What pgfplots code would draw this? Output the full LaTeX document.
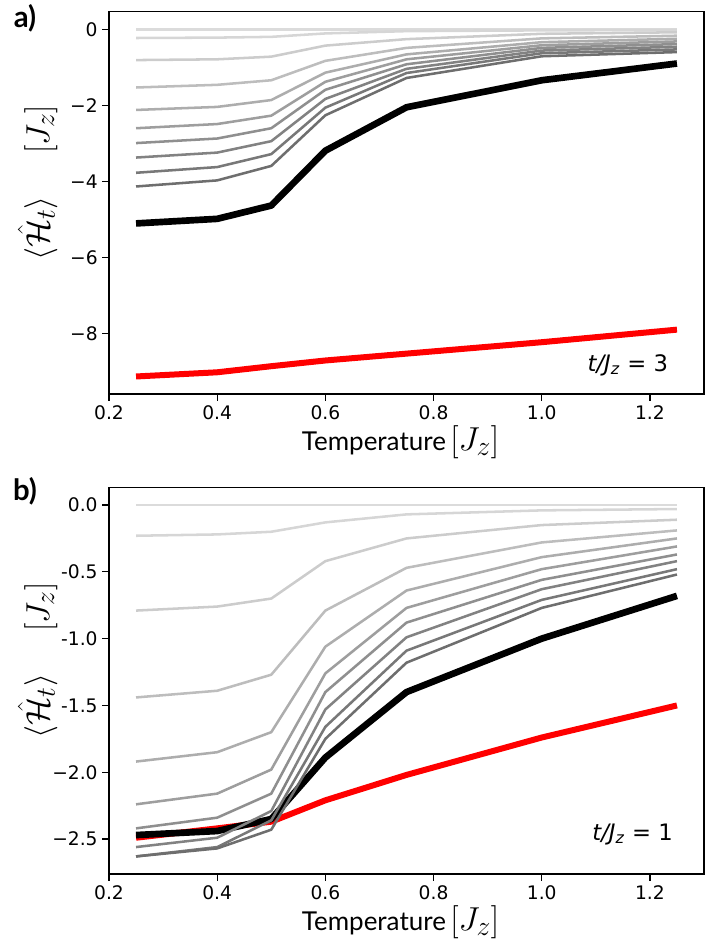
\documentclass[border=0pt]{standalone}
\usepackage{amsmath}
\usepackage{fontspec}
\setmainfont{Lato}
\newfontfamily\dejavu{DejaVu Sans}
\usepackage{pgfplots}
\pgfplotsset{compat=1.18}
\usepackage{pgfplotstable}

\pgfplotstableread{
T g1 g2 g3 g4 g5 g6 g7 g8 g9 g10 blk red
0.25 0 -0.23 -0.81 -1.53 -2.12 -2.60 -2.99 -3.37 -3.77 -4.13 -5.10 -9.12
0.40 0 -0.22 -0.79 -1.46 -2.04 -2.49 -2.87 -3.24 -3.62 -3.97 -4.98 -9.01
0.50 0 -0.20 -0.72 -1.34 -1.86 -2.27 -2.60 -2.94 -3.28 -3.59 -4.63 -8.85
0.60 0 -0.11 -0.43 -0.83 -1.14 -1.38 -1.59 -1.83 -2.06 -2.26 -3.19 -8.70
0.75 0 -0.05 -0.26 -0.49 -0.66 -0.79 -0.92 -1.04 -1.15 -1.28 -2.05 -8.52
1.00 0 -0.03 -0.12 -0.24 -0.34 -0.42 -0.49 -0.56 -0.63 -0.71 -1.34 -8.22
1.25 0 -0.02 -0.08 -0.17 -0.25 -0.32 -0.39 -0.46 -0.53 -0.60 -0.90 -7.89
}\dataA

\pgfplotstableread{
T g1 g2 g3 g4 g5 g6 g7 g8 g9 g10 blk red
0.25 0 -0.23 -0.79 -1.44 -1.92 -2.24 -2.42 -2.56 -2.63 -2.63 -2.47 -2.49
0.40 0 -0.22 -0.76 -1.39 -1.85 -2.16 -2.34 -2.49 -2.56 -2.57 -2.44 -2.42
0.50 0 -0.20 -0.70 -1.27 -1.70 -1.98 -2.16 -2.29 -2.36 -2.43 -2.35 -2.37
0.60 0 -0.13 -0.42 -0.79 -1.06 -1.26 -1.40 -1.53 -1.66 -1.75 -1.89 -2.21
0.75 0 -0.07 -0.25 -0.47 -0.64 -0.77 -0.88 -0.99 -1.09 -1.18 -1.40 -2.02
1.00 0 -0.04 -0.15 -0.28 -0.39 -0.48 -0.56 -0.63 -0.71 -0.77 -1.00 -1.74
1.25 0 -0.03 -0.11 -0.19 -0.25 -0.31 -0.37 -0.42 -0.48 -0.52 -0.68 -1.50
}\dataB

\definecolor{c1}{gray}{0.86}
\definecolor{c2}{gray}{0.84}
\definecolor{c3}{gray}{0.80}
\definecolor{c4}{gray}{0.74}
\definecolor{c5}{gray}{0.68}
\definecolor{c6}{gray}{0.62}
\definecolor{c7}{gray}{0.56}
\definecolor{c8}{gray}{0.51}
\definecolor{c9}{gray}{0.47}
\definecolor{c10}{gray}{0.43}

\newcommand{\mathbig}{\fontsize{24.88}{30}\selectfont}
\pgfplotsset{
  panel/.style={
    scale only axis, width=446.25pt,
    xmin=0.2, xmax=1.3,
    xtick={0.2,0.4,0.6,0.8,1.0,1.2},
    xticklabels={0.2,0.4,0.6,0.8,1.0,1.2},
    tick align=outside, xtick pos=bottom, ytick pos=left,
    major tick length=5pt,
    tick style={line width=0.9pt, black},
    axis line style={line width=0.9pt},
    tick label style={font=\dejavu\fontsize{14}{17}\selectfont},
    label style={font=\fontsize{19.5}{24}\selectfont},
    xlabel={Temperature\,{\mathbig$[J_z]$}},
    ylabel={{\mathbig$\langle \hat{\mathcal{H}}_t \rangle \quad\; [ J_z ]$}},
    xlabel style={at={(axis description cs:0.49,0)}, anchor=center, yshift=-36pt},
    ylabel style={at={(axis description cs:-0.12,0.553)}, anchor=center},
    every axis plot/.append style={line join=round},
  },
  gline/.style={line width=1.9pt, #1},
}

\newcommand{\grays}[1]{%
  \addplot[gline=c1] table[x=T,y=g1]{#1};
  \addplot[gline=c2] table[x=T,y=g2]{#1};
  \addplot[gline=c3] table[x=T,y=g3]{#1};
  \addplot[gline=c4] table[x=T,y=g4]{#1};
  \addplot[gline=c5] table[x=T,y=g5]{#1};
  \addplot[gline=c6] table[x=T,y=g6]{#1};
  \addplot[gline=c7] table[x=T,y=g7]{#1};
  \addplot[gline=c8] table[x=T,y=g8]{#1};
  \addplot[gline=c9] table[x=T,y=g9]{#1};
  \addplot[gline=c10] table[x=T,y=g10]{#1};
}

\begin{document}
\begin{tikzpicture}
\useasboundingbox (0,0) rectangle (528.75pt,708.75pt);

\begin{axis}[panel, at={(81.75pt,413.25pt)}, anchor=south west,
  height=286.7pt, ymin=-9.58, ymax=0.46,
  ytick={-8,-6,-4,-2,0}, yticklabels={−8,−6,−4,−2,0}]
  \addplot[red, line width=4.5pt] table[x=T,y=red]{\dataA};
  \addplot[black, line width=5pt] table[x=T,y=blk]{\dataA};
  \grays{\dataA}
  \node[font=\dejavu\fontsize{17}{20}\selectfont] at (axis description cs:0.872,0.076)
    {\textit{t/J}\textsubscript{\textit{z}} = 3};
\end{axis}

\begin{axis}[panel, at={(81.75pt,53.25pt)}, anchor=south west,
  height=289.9pt, ymin=-2.7615, ymax=0.1315,
  ytick={-2.5,-2,-1.5,-1,-0.5,0}, yticklabels={−2.5,−2.0,-1.5,-1.0,-0.5,0.0}]
  \addplot[red, line width=4.5pt] table[x=T,y=red]{\dataB};
  \addplot[black, line width=5pt] table[x=T,y=blk]{\dataB};
  \grays{\dataB}
  \node[font=\dejavu\fontsize{17}{20}\selectfont] at (axis description cs:0.88,0.103)
    {\textit{t/J}\textsubscript{\textit{z}} = 1};
\end{axis}

\node[font=\bfseries\fontsize{22}{26}\selectfont] at (18.75pt,695pt) {a)};
\node[font=\bfseries\fontsize{22}{26}\selectfont] at (18.75pt,340.5pt) {b)};
\end{tikzpicture}
\end{document}
